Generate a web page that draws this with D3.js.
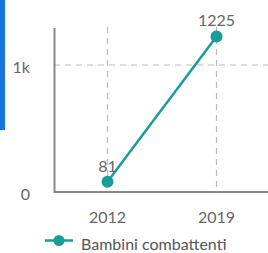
<!DOCTYPE html>
<html>
<head>
<meta charset="utf-8">
<script src="https://cdn.jsdelivr.net/npm/d3@7"></script>
<style>
  html, body { margin: 0; padding: 0; background: #fff; overflow: hidden; }
  text { font-family: Lato, "Open Sans", sans-serif; }
</style>
</head>
<body>
<div id="chart"></div>
<script>
const years = ['2012', '2019'];
const values = [81, 1225];
const yTicks = [0, 1000];
const yTickLabels = ['0', '1k'];
const seriesName = 'Bambini combattenti';

const width = 268;
const height = 253;
const teal = '#1a9d98';

const svg = d3.select('#chart').append('svg')
    .attr('width', width)
    .attr('height', height);

// blue side accent
svg.append('rect').attr('x', 0).attr('y', 0).attr('width', 5).attr('height', 130)
    .attr('fill', '#1a73d9');

const x = d3.scalePoint().domain(years).range([107.5, 216.5]);
const y = d3.scaleLinear().domain([0, 1000]).range([192, 65]);

const grid = svg.append('g');
grid.selectAll('line.v').data(years).join('line')
    .attr('class', 'v')
    .attr('x1', d => x(d)).attr('x2', d => x(d))
    .attr('y1', 27).attr('y2', 192)
    .attr('stroke', '#bbb').attr('stroke-width', 1.2)
    .attr('stroke-dasharray', '6,5');
grid.selectAll('line.h').data(yTicks.filter(d => d > 0)).join('line')
    .attr('class', 'h')
    .attr('x1', 54).attr('x2', width)
    .attr('y1', d => y(d)).attr('y2', d => y(d))
    .attr('stroke', '#bbb').attr('stroke-width', 1.2)
    .attr('stroke-dasharray', '6,5');

// axes
svg.append('line').attr('x1', 54.5).attr('x2', 54.5).attr('y1', 28).attr('y2', 193)
    .attr('stroke', '#888').attr('stroke-width', 2);
svg.append('line').attr('x1', 54).attr('x2', width).attr('y1', 192).attr('y2', 192)
    .attr('stroke', '#888').attr('stroke-width', 2);

svg.selectAll('text.ytick').data(yTicks).join('text')
    .attr('class', 'ytick')
    .attr('x', 30).attr('y', d => y(d) + 7.5)
    .attr('text-anchor', 'end')
    .attr('font-size', 16).attr('fill', '#666')
    .text((d, i) => yTickLabels[i]);

svg.selectAll('text.xtick').data(years).join('text')
    .attr('class', 'xtick')
    .attr('x', d => x(d)).attr('y', 223)
    .attr('text-anchor', 'middle')
    .attr('font-size', 16).attr('fill', '#666')
    .text(d => d);

const pts = years.map((d, i) => ({year: d, value: values[i]}));

svg.append('path').datum(pts)
    .attr('fill', 'none').attr('stroke', teal).attr('stroke-width', 2.5)
    .attr('d', d3.line().x(d => x(d.year)).y(d => y(d.value)));

svg.selectAll('circle.pt').data(pts).join('circle')
    .attr('class', 'pt')
    .attr('cx', d => x(d.year)).attr('cy', d => y(d.value))
    .attr('r', 6).attr('fill', teal);

svg.selectAll('text.lbl').data(pts).join('text')
    .attr('class', 'lbl')
    .attr('x', d => x(d.year)).attr('y', d => y(d.value) - 10)
    .attr('text-anchor', 'middle')
    .attr('font-size', 16).attr('fill', '#666')
    .text(d => d.value);

// legend
const lg = svg.append('g');
lg.append('line').attr('x1', 45).attr('x2', 73).attr('y1', 240.5).attr('y2', 240.5)
    .attr('stroke', teal).attr('stroke-width', 2.5);
lg.append('circle').attr('cx', 59).attr('cy', 240.5).attr('r', 5.5).attr('fill', teal);
lg.append('text').attr('x', 81).attr('y', 249.5)
    .attr('font-size', 16).attr('fill', '#555')
    .text(seriesName);
</script>
</body>
</html>
